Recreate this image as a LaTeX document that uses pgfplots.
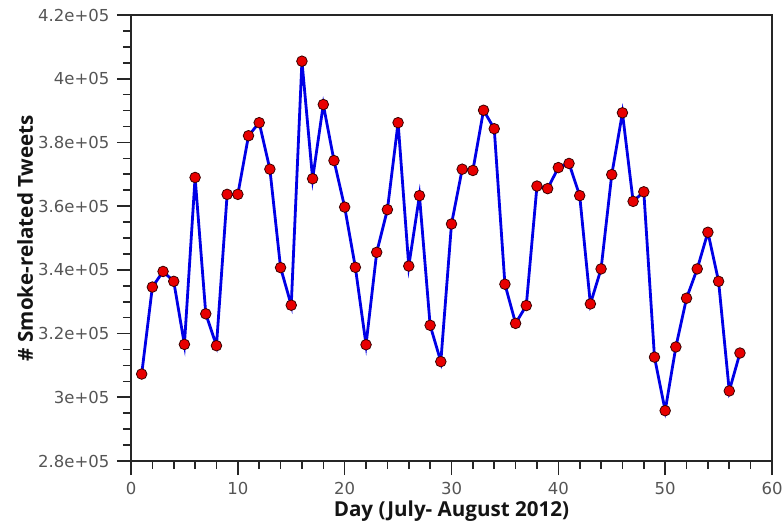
\documentclass[border=0pt]{standalone}
\usepackage{pgfplots}
\pgfplotsset{compat=1.18}
\usepackage{fontspec}
\setmainfont{DejaVu Sans}
\newfontfamily\labelfont{Open Sans}

\definecolor{tickgray}{HTML}{555555}
\definecolor{framegray}{HTML}{262626}
\definecolor{lineblue}{HTML}{0000E6}
\definecolor{markred}{HTML}{E80000}
\definecolor{markedge}{HTML}{3A0000}

% Daily counts of smoke-related tweets
\pgfplotstableread{
day count
1  307300
2  334600
3  339500
4  336400
5  316600
6  369000
7  326200
8  316200
9  363700
10 363700
11 382100
12 386200
13 371600
14 340700
15 328900
16 405500
17 368600
18 391900
19 374300
20 359700
21 340800
22 316500
23 345500
24 358900
25 386200
26 341200
27 363300
28 322600
29 311200
30 354400
31 371600
32 371200
33 390100
34 384300
35 335500
36 323200
37 328800
38 366300
39 365500
40 372100
41 373400
42 363300
43 329300
44 340300
45 369900
46 389300
47 361500
48 364500
49 312600
50 295800
51 315800
52 331100
53 340300
54 351800
55 336400
56 302000
57 313900
}\tweets

\begin{document}
\begin{tikzpicture}
\begin{axis}[
  scale only axis,
  width=641pt, height=446pt,
  xmin=0, xmax=60,
  ymin=280000, ymax=420000,
  xtick={0,10,...,60},
  minor x tick num=4,
  ytick={280000,300000,...,420000},
  minor y tick num=3,
  yticklabels={2.8e+05,3e+05,3.2e+05,3.4e+05,3.6e+05,3.8e+05,4e+05,4.2e+05},
  scaled ticks=false,
  /pgf/number format/assume math mode=true,
  tick pos=left,
  tick align=outside,
  major tick length=14pt,
  minor tick length=8pt,
  tick style={line width=1.6pt, color=framegray},
  axis line style={line width=1.8pt, color=framegray},
  tick label style={font=\fontsize{16.5}{19}\selectfont, color=tickgray},
  xticklabel style={yshift=-4pt},
  yticklabel style={xshift=-4pt},
  xlabel={Day (July- August 2012)},
  ylabel={\# Smoke-related Tweets},
  xlabel style={font=\labelfont\bfseries\fontsize{20.6}{24}\selectfont, color=black!92,
    at={(axis description cs:0.5,-0.1233)}, anchor=base},
  ylabel style={font=\labelfont\bfseries\fontsize{20.6}{24}\selectfont, color=black!92,
    at={(axis description cs:-0.165,0.5)}, anchor=center},
]
\addplot[color=lineblue, line width=2.8pt,
  mark=*, mark size=5.3pt,
  mark options={fill=markred, draw=markedge, line width=0.8pt}]
  table[x=day, y=count] {\tweets};
\coordinate (bl) at (rel axis cs:0,0);
\coordinate (tr) at (rel axis cs:1,1);
\end{axis}
\pgfresetboundingbox
\path ([xshift=-131pt,yshift=-67pt]bl) rectangle ([xshift=11pt,yshift=15pt]tr);
\end{tikzpicture}
\end{document}
